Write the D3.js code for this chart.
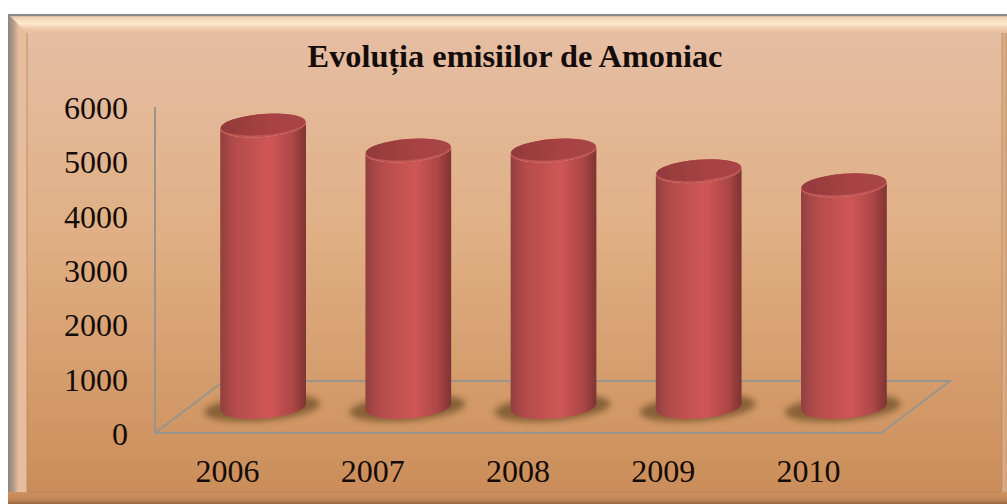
<!DOCTYPE html>
<html>
<head>
<meta charset="utf-8">
<script src="https://cdnjs.cloudflare.com/ajax/libs/d3/7.8.5/d3.min.js"></script>
<style>
html, body { margin: 0; padding: 0; background: #fff; overflow: hidden; }
text { font-family: "Liberation Serif", serif; fill: #140c08; }
</style>
</head>
<body>
<div id="vis"></div>
<script>
const years = ['2006', '2007', '2008', '2009', '2010']
const emissions = [5180, 4720, 4720, 4340, 4080]
const yTicks = [0, 1000, 2000, 3000, 4000, 5000, 6000]
const title = 'Evoluția emisiilor de Amoniac'

// plot box and fake 3d depth of the floor
const plot = { left: 155, right: 881, top: 107, bottom: 433 }
const depth = { x: 69, y: -52 }
const tilt = 4.5 // degrees, ellipses lean up to the right
const barRx = 43, barRy = 11.5

const svg = d3.select('#vis').append('svg')
    .attr('width', 1007)
    .attr('height', 504)
    .style('display', 'block')

const xScale = d3.scaleBand().domain(years).range([plot.left, plot.right])
const yScale = d3.scaleLinear().domain([0, 6000]).range([plot.bottom, plot.top])

// gradients and filters
const defs = svg.append('defs')

function addGradient(id, stops, vertical) {
    const g = defs.append('linearGradient').attr('id', id)
        .attr('x1', 0).attr('y1', 0)
        .attr('x2', vertical ? 0 : 1).attr('y2', vertical ? 1 : 0)
    stops.forEach(s => g.append('stop').attr('offset', s[0]).attr('stop-color', s[1]))
}
addGradient('panel', [[0, '#e6bfa6'], [0.45, '#e0af84'], [1, '#ca8c58']], true)
addGradient('topBand', [[0, '#8f8a86'], [0.1, '#8f8a86'], [0.14, '#f0cdb0'], [0.5, '#fdeacf'], [0.8, '#eec6a6'], [1, '#e8bfa4']], true)
addGradient('leftBand', [[0, '#8a8784'], [0.3, '#b59c8a'], [0.55, '#e6bd9e'], [1, '#e8bd9c']], false)
addGradient('bottomBand', [[0, '#cf9360'], [0.7, '#bd8253'], [1, '#94673f']], true)
addGradient('rightBand', [[0, '#e0b48c'], [1, '#cf9f78']], false)
addGradient('cylinder', [[0, '#93403f'], [0.18, '#b54c4c'], [0.58, '#d05656'], [0.85, '#ab4647'], [1, '#7f3332']], false)
addGradient('barTop', [[0, '#92393a'], [0.6, '#a84344'], [1, '#a84445']], false)

defs.append('filter').attr('id', 'soft').append('feGaussianBlur').attr('stdDeviation', 0.6)
defs.append('filter').attr('id', 'shadowBlur')
    .attr('x', '-20%').attr('y', '-40%').attr('width', '140%').attr('height', '180%')
    .append('feGaussianBlur').attr('stdDeviation', 3)

// frame
svg.append('rect').attr('x', 8).attr('y', 14).attr('width', 999).attr('height', 490).attr('fill', 'url(#panel)')
svg.append('rect').attr('x', 8).attr('y', 14).attr('width', 19).attr('height', 490).attr('fill', 'url(#leftBand)')
svg.append('rect').attr('x', 1002).attr('y', 33).attr('width', 5).attr('height', 471).attr('fill', 'url(#rightBand)')
svg.append('rect').attr('x', 8).attr('y', 492).attr('width', 999).attr('height', 12).attr('fill', 'url(#bottomBand)')
svg.append('path').attr('d', 'M8,14 H1007 V33 H27 Z').attr('fill', 'url(#topBand)')
svg.append('path').attr('d', 'M27,33 V492 H1002 V33')
    .attr('fill', 'none').attr('stroke', '#b08560').attr('stroke-width', 0.8)

svg.append('text')
    .attr('x', 515).attr('y', 67)
    .attr('text-anchor', 'middle')
    .style('font-size', '32.3px').style('font-weight', 'bold')
    .text(title)

// floor and value axis lines
const front = { l: plot.left, r: plot.right, y: plot.bottom }
const floorLine = d3.line()
const gridColor = '#99948c'
svg.append('path')
    .attr('d', floorLine([
        [front.l, plot.top], [front.l, front.y], [front.r, front.y],
        [front.r + depth.x, front.y + depth.y], [front.l + depth.x, front.y + depth.y], [front.l, front.y]
    ]))
    .attr('fill', 'none').attr('stroke', gridColor).attr('stroke-width', 2).attr('filter', 'url(#soft)')

// axes
const yAxis = svg.append('g')
    .attr('transform', 'translate(137,0.5)')
    .call(d3.axisLeft(yScale).tickValues(yTicks).tickSize(0).tickPadding(9).tickFormat(d => d))
yAxis.select('.domain').remove()
yAxis.selectAll('text').style('font-size', '32px').style('font-family', '"Liberation Serif", serif').attr('dy', '0.34em')

const xAxis = svg.append('g')
    .attr('transform', 'translate(0,' + (plot.bottom + 1) + ')')
    .call(d3.axisBottom(xScale).tickSize(0).tickPadding(25))
xAxis.select('.domain').remove()
xAxis.selectAll('text').style('font-size', '32px').style('font-family', '"Liberation Serif", serif')

// cylinders
const rad = tilt * Math.PI / 180
const ex = barRx * Math.cos(rad), ey = barRx * Math.sin(rad)
const data = years.map((y, i) => ({
    year: y,
    cx: xScale(y) + xScale.bandwidth() / 2 + depth.x / 2 + 1,
    base: yScale(0) + depth.y / 2,
    top: yScale(emissions[i]) + depth.y / 2
}))

const bars = svg.selectAll('.bar').data(data).join('g').attr('class', 'bar')

bars.append('ellipse')
    .attr('cx', d => d.cx - 1).attr('cy', d => d.base + 1)
    .attr('rx', 58).attr('ry', 13)
    .attr('transform', d => `rotate(${-tilt} ${d.cx - 1} ${d.base + 1})`)
    .attr('fill', '#6f5028').attr('opacity', 0.75)
    .attr('filter', 'url(#shadowBlur)')

const barInner = bars.append('g').attr('filter', 'url(#soft)')

barInner.append('path')
    .attr('d', d => `M${d.cx - ex},${d.top + ey} L${d.cx - ex},${d.base + ey}
        A${barRx},${barRy} ${-tilt} 0 0 ${d.cx + ex},${d.base - ey}
        L${d.cx + ex},${d.top - ey}
        A${barRx},${barRy} ${-tilt} 0 1 ${d.cx - ex},${d.top + ey} Z`)
    .attr('fill', 'url(#cylinder)')

barInner.append('ellipse')
    .attr('cx', d => d.cx).attr('cy', d => d.top)
    .attr('rx', barRx).attr('ry', barRy)
    .attr('transform', d => `rotate(${-tilt} ${d.cx} ${d.top})`)
    .attr('fill', '#c25454')

barInner.append('ellipse')
    .attr('cx', d => d.cx).attr('cy', d => d.top - 1)
    .attr('rx', barRx - 0.5).attr('ry', barRy - 1)
    .attr('transform', d => `rotate(${-tilt} ${d.cx} ${d.top - 1})`)
    .attr('fill', 'url(#barTop)')
</script>
</body>
</html>
